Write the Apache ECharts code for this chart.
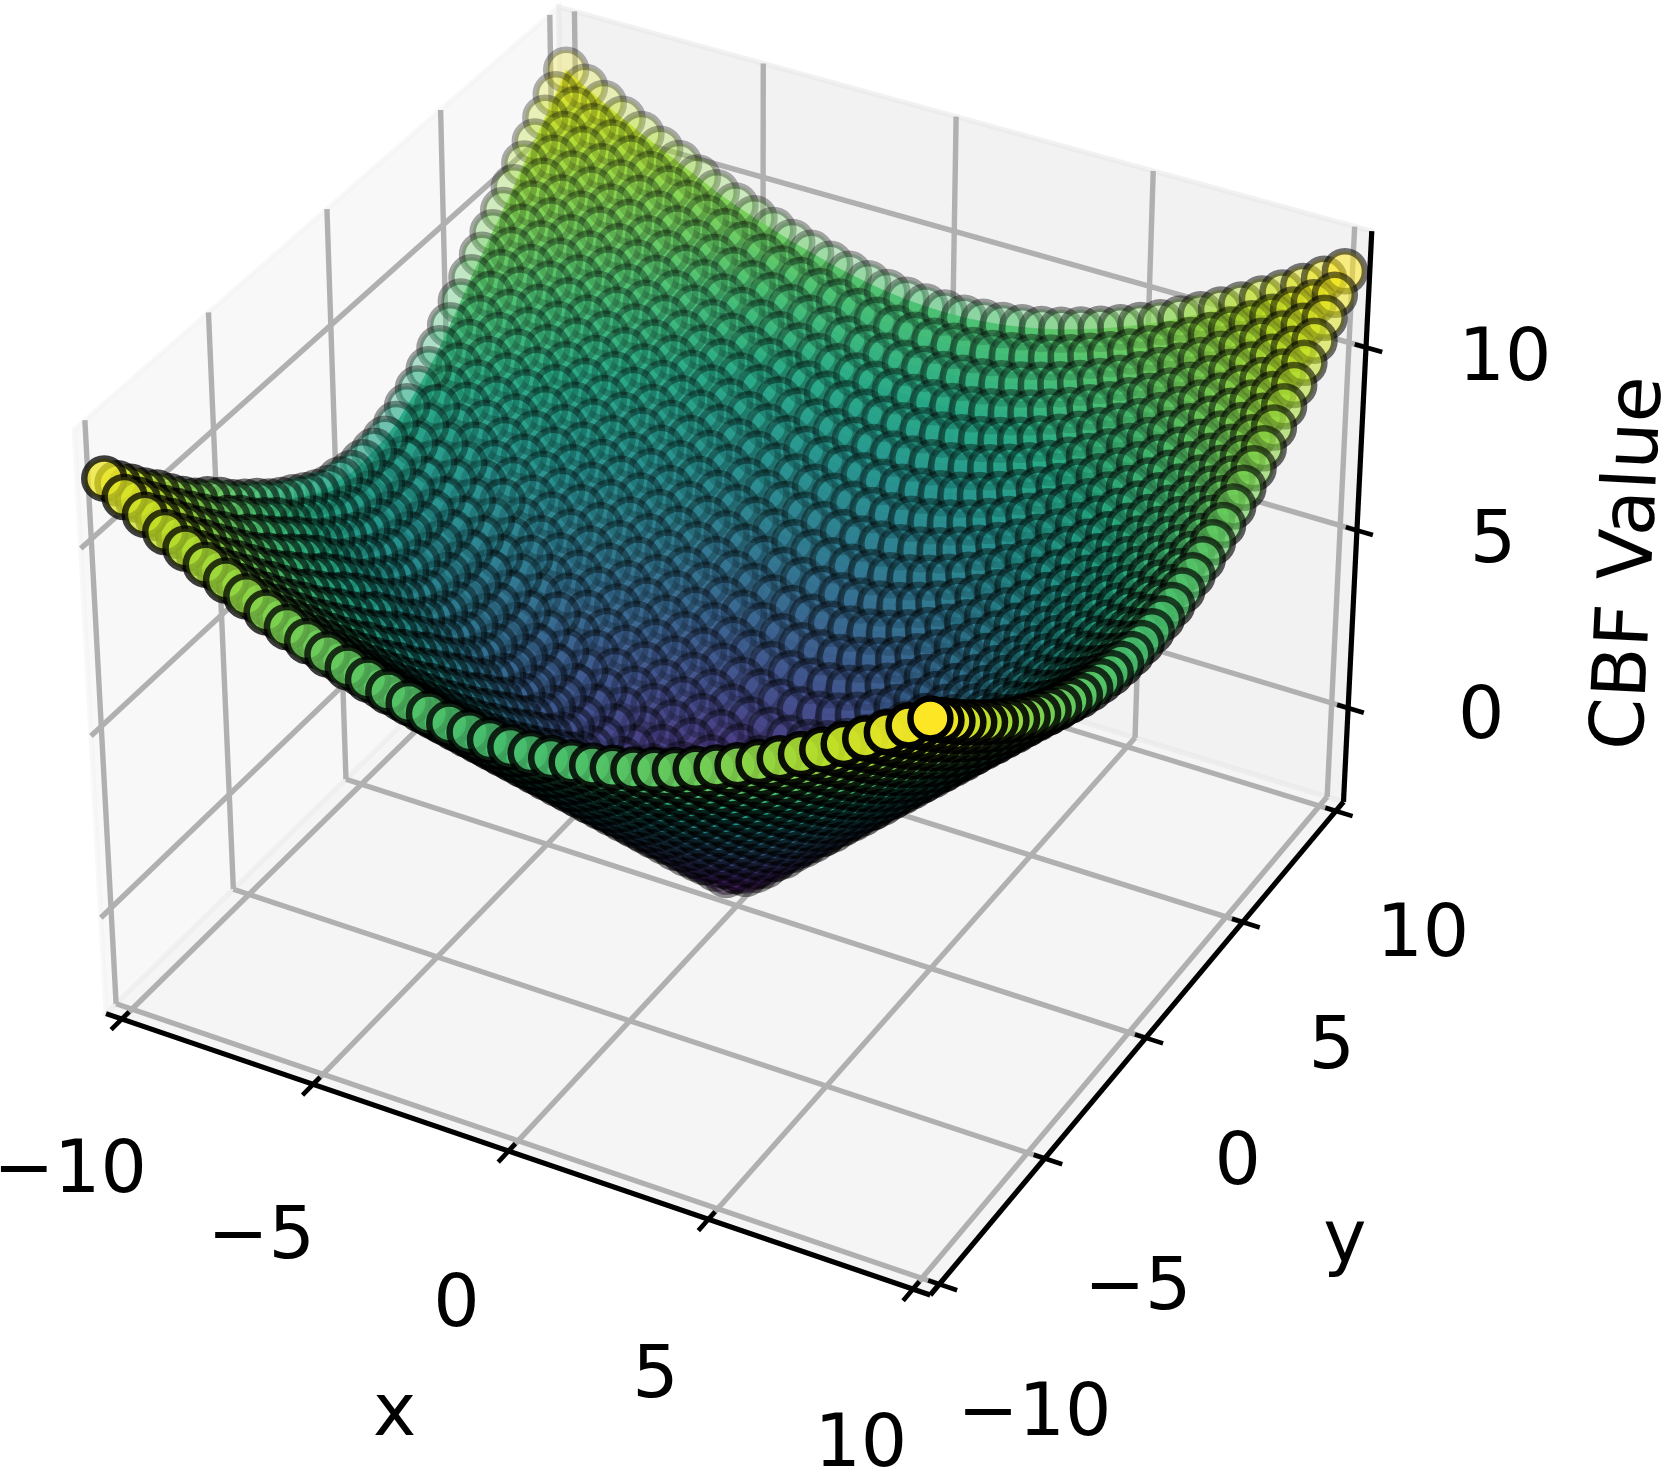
<!DOCTYPE html>
<html><head><meta charset="utf-8"><style>html,body{margin:0;padding:0;background:#fff}#chart{width:1661px;height:1470px}</style>
<script src="https://cdn.jsdelivr.net/npm/echarts@6/dist/echarts.min.js"></script></head><body><div id="chart"></div>
<script>
const xTicks=[-10,-5,0,5,10];
const yTicks=[-10,-5,0,5,10];
const zTicks=[0,5,10];
const xTickLabels=['−10','−5','0','5','10'];
const yTickLabels=['−10','−5','0','5','10'];
const zTickLabels=['0','5','10'];
const gridXY=[-10,-9.5,-9,-8.5,-8,-7.5,-7,-6.5,-6,-5.5,-5,-4.5,-4,-3.5,-3,-2.5,-2,-1.5,-1,-0.5,0,0.5,1,1.5,2,2.5,3,3.5,4,4.5,5,5.5,6,6.5,7,7.5,8,8.5,9,9.5,10];
const r0=[6.1,5.7,5.29,4.89,4.48,4.08,3.67,3.27,2.86,2.46,2.05,1.65,1.24,0.84,0.43,0.03,-0.38,-0.79,-1.19,-1.6,-1.72,-1.5,-1,-0.5,0,0.5,1,1.5,2,2.5,3,3.5,4,4.5,5,5.5,6,6.5,7,7.5,8];
const r1=[6.11,5.7,5.3,4.89,4.5,4.09,3.69,3.28,2.88,2.47,2.07,1.67,1.26,0.87,0.46,0.08,-0.3,-0.67,-1,-1.31,-1.5,-1.29,-0.88,-0.42,0.06,0.55,1.04,1.54,2.03,2.53,3.02,3.52,4.02,4.52,5.02,5.52,6.02,6.51,7.01,7.51,8.01];
const r2=[6.14,5.74,5.34,4.93,4.53,4.13,3.73,3.33,2.92,2.53,2.16,1.78,1.4,1.03,0.66,0.32,0.01,-0.32,-0.63,-0.89,-1,-0.88,-0.59,-0.2,0.24,0.69,1.16,1.64,2.12,2.61,3.1,3.59,4.08,4.58,5.07,5.57,6.06,6.56,7.06,7.55,8.05];
const r3=[6.19,5.79,5.39,4.99,4.61,4.23,3.86,3.48,3.1,2.74,2.36,2,1.65,1.32,1,0.7,0.36,0.06,-0.23,-0.42,-0.5,-0.42,-0.2,0.12,0.5,0.92,1.35,1.81,2.27,2.74,3.22,3.7,4.18,4.67,5.16,5.65,6.14,6.63,7.12,7.62,8.11];
const r4=[6.31,5.93,5.56,5.18,4.81,4.43,4.06,3.7,3.33,2.97,2.65,2.31,2,1.7,1.37,1.05,0.75,0.46,0.22,0.06,0,0.06,0.24,0.5,0.83,1.2,1.61,2.03,2.47,2.92,3.39,3.85,4.32,4.8,5.28,5.76,6.25,6.73,7.22,7.71,8.2];
const r5=[6.52,6.14,5.77,5.4,5.03,4.67,4.3,3.96,3.64,3.32,3.01,2.7,2.38,2.04,1.73,1.43,1.13,0.88,0.68,0.55,0.5,0.55,0.69,0.92,1.2,1.54,1.91,2.3,2.72,3.15,3.59,4.04,4.5,4.96,5.43,5.91,6.38,6.86,7.34,7.82,8.31];
const r6=[6.73,6.37,6,5.64,5.29,4.97,4.64,4.33,4.01,3.7,3.38,3.05,2.73,2.41,2.11,1.82,1.56,1.33,1.16,1.04,1,1.04,1.16,1.35,1.61,1.91,2.24,2.61,3,3.41,3.83,4.26,4.71,5.16,5.62,6.08,6.54,7.01,7.49,7.96,8.44];
const r7=[6.98,6.61,6.3,5.96,5.64,5.33,5.02,4.7,4.4,4.06,3.72,3.42,3.09,2.8,2.5,2.23,1.99,1.79,1.64,1.54,1.5,1.54,1.64,1.81,2.03,2.3,2.61,2.95,3.31,3.7,4.1,4.52,4.95,5.38,5.83,6.28,6.73,7.19,7.66,8.12,8.6];
const r8=[7.28,6.96,6.64,6.33,6.01,5.7,5.4,5.07,4.73,4.41,4.09,3.78,3.49,3.18,2.91,2.66,2.44,2.26,2.12,2.03,2,2.03,2.12,2.27,2.47,2.72,3,3.31,3.66,4.02,4.4,4.8,5.21,5.63,6.06,6.5,6.94,7.39,7.85,8.31,8.77];
const r9=[7.64,7.33,7.01,6.71,6.4,6.08,5.74,5.41,5.09,4.78,4.47,4.17,3.86,3.59,3.33,3.1,2.9,2.74,2.61,2.53,2.5,2.53,2.61,2.74,2.92,3.15,3.41,3.7,4.02,4.36,4.73,5.11,5.5,5.91,6.32,6.75,7.18,7.62,8.06,8.51,8.97];
const r10=[8.02,7.71,7.4,7.09,6.74,6.41,6.08,5.77,5.46,5.15,4.86,4.55,4.27,4.01,3.76,3.55,3.37,3.22,3.1,3.02,3,3.02,3.1,3.22,3.39,3.59,3.83,4.1,4.4,4.73,5.07,5.43,5.81,6.2,6.6,7.01,7.43,7.86,8.3,8.74,9.18];
const r11=[8.41,8.1,7.76,7.41,7.09,6.77,6.46,6.14,5.83,5.55,5.23,4.95,4.68,4.44,4.2,4.01,3.84,3.7,3.59,3.52,3.5,3.52,3.59,3.7,3.85,4.04,4.26,4.52,4.8,5.11,5.43,5.78,6.14,6.51,6.9,7.3,7.71,8.12,8.55,8.98,9.41];
const r12=[8.76,8.43,8.1,7.77,7.45,7.14,6.82,6.52,6.24,5.92,5.63,5.37,5.11,4.87,4.66,4.48,4.32,4.18,4.08,4.02,4,4.02,4.08,4.18,4.32,4.5,4.71,4.95,5.21,5.5,5.81,6.14,6.49,6.85,7.22,7.6,8,8.4,8.82,9.24,9.66];
const r13=[9.11,8.77,8.45,8.14,7.83,7.5,7.21,6.91,6.61,6.31,6.04,5.79,5.54,5.31,5.12,4.94,4.8,4.67,4.58,4.52,4.5,4.52,4.58,4.67,4.8,4.96,5.16,5.38,5.63,5.91,6.2,6.51,6.85,7.19,7.55,7.92,8.31,8.7,9.1,9.51,9.93];
const r14=[9.45,9.14,8.83,8.5,8.19,7.89,7.6,7.29,7,6.72,6.46,6.21,5.98,5.78,5.59,5.42,5.28,5.16,5.07,5.02,5,5.02,5.07,5.16,5.28,5.43,5.62,5.83,6.06,6.32,6.6,6.9,7.22,7.55,7.9,8.26,8.63,9.01,9.4,9.8,10.21];
const r15=[9.81,9.51,9.19,8.88,8.58,8.29,7.97,7.67,7.4,7.14,6.88,6.65,6.42,6.24,6.06,5.91,5.76,5.65,5.57,5.52,5.5,5.52,5.57,5.65,5.76,5.91,6.08,6.28,6.5,6.75,7.01,7.3,7.6,7.92,8.26,8.61,8.97,9.34,9.72,10.1,10.5];
const r16=[10.2,9.87,9.56,9.26,8.97,8.66,8.36,8.08,7.82,7.56,7.31,7.09,6.88,6.7,6.52,6.38,6.25,6.14,6.06,6.02,6,6.02,6.06,6.14,6.25,6.38,6.54,6.73,6.94,7.18,7.43,7.71,8,8.31,8.63,8.97,9.31,9.67,10.04,10.42,10.81];
const r17=[10.54,10.24,9.95,9.66,9.34,9.06,8.76,8.5,8.24,7.99,7.75,7.53,7.34,7.16,7,6.86,6.73,6.63,6.56,6.51,6.5,6.51,6.56,6.63,6.73,6.86,7.01,7.19,7.39,7.62,7.86,8.12,8.4,8.7,9.01,9.34,9.67,10.02,10.38,10.75,11.12];
const r18=[10.93,10.63,10.35,10.03,9.73,9.45,9.17,8.91,8.67,8.42,8.2,7.99,7.81,7.64,7.49,7.34,7.22,7.12,7.06,7.01,7,7.01,7.06,7.12,7.22,7.34,7.49,7.66,7.85,8.06,8.3,8.55,8.82,9.1,9.4,9.72,10.04,10.38,10.73,11.09,11.45];
const r19=[11.31,11.04,10.72,10.42,10.13,9.85,9.59,9.34,9.09,8.86,8.65,8.46,8.28,8.11,7.96,7.82,7.71,7.62,7.55,7.51,7.5,7.51,7.55,7.62,7.71,7.82,7.96,8.12,8.31,8.51,8.74,8.98,9.24,9.51,9.8,10.1,10.42,10.75,11.09,11.44,11.79];
const r20=[11.72,11.4,11.1,10.81,10.54,10.28,10.03,9.78,9.52,9.3,9.1,8.92,8.74,8.59,8.44,8.31,8.2,8.11,8.05,8.01,8,8.01,8.05,8.11,8.2,8.31,8.44,8.6,8.77,8.97,9.18,9.41,9.66,9.93,10.21,10.5,10.81,11.12,11.45,11.79,12.14];
// rows on the negative-y side where the reference differs from the positive-y side
const n1=[6.21,5.79,5.38,4.96,4.56,4.14,3.73,3.31,2.9,2.48,2.07,1.67,1.26,0.87,0.46,0.08,-0.3,-0.67,-1,-1.31,-1.5,-1.29,-0.88,-0.42,0.06,0.55,1.04,1.54,2.03,2.53,3.02,3.52,4.02,4.52,5.02,5.52,6.02,6.51,7.01,7.51,8.01];
const n2=[6.27,5.86,5.44,5.02,4.61,4.2,3.78,3.37,2.95,2.54,2.16,1.78,1.4,1.03,0.66,0.32,0.01,-0.32,-0.63,-0.89,-1,-0.88,-0.59,-0.2,0.24,0.69,1.16,1.64,2.12,2.61,3.1,3.59,4.08,4.58,5.07,5.57,6.06,6.56,7.06,7.55,8.05];
const n3=[6.44,6.02,5.59,5.17,4.76,4.36,3.96,3.56,3.15,2.77,2.36,2,1.65,1.32,1,0.7,0.36,0.06,-0.23,-0.42,-0.5,-0.42,-0.2,0.12,0.5,0.92,1.35,1.81,2.27,2.74,3.22,3.7,4.18,4.67,5.16,5.65,6.14,6.63,7.12,7.62,8.11];
const n4=[6.65,6.24,5.83,5.42,5.01,4.6,4.2,3.8,3.4,3,2.65,2.31,2,1.7,1.37,1.05,0.75,0.46,0.22,0.06,0,0.06,0.24,0.5,0.83,1.2,1.61,2.03,2.47,2.92,3.39,3.85,4.32,4.8,5.28,5.76,6.25,6.73,7.22,7.71,8.2];
const n5=[6.88,6.46,6.06,5.65,5.25,4.85,4.44,4.07,3.71,3.36,3.01,2.7,2.38,2.04,1.73,1.43,1.13,0.88,0.68,0.55,0.5,0.55,0.69,0.92,1.2,1.54,1.91,2.3,2.72,3.15,3.59,4.04,4.5,4.96,5.43,5.91,6.38,6.86,7.34,7.82,8.31];
const n6=[7.1,6.7,6.3,5.9,5.51,5.16,4.79,4.44,4.08,3.74,3.38,3.05,2.73,2.41,2.11,1.82,1.56,1.33,1.16,1.04,1,1.04,1.16,1.35,1.61,1.91,2.24,2.61,3,3.41,3.83,4.26,4.71,5.16,5.62,6.08,6.54,7.01,7.49,7.96,8.44];
const n7=[7.35,6.94,6.6,6.22,5.86,5.52,5.17,4.81,4.47,4.1,3.72,3.42,3.09,2.8,2.5,2.23,1.99,1.79,1.64,1.54,1.5,1.54,1.64,1.81,2.03,2.3,2.61,2.95,3.31,3.7,4.1,4.52,4.95,5.38,5.83,6.28,6.73,7.19,7.66,8.12,8.6];
const n8=[7.65,7.29,6.94,6.59,6.23,5.89,5.55,5.18,4.8,4.45,4.09,3.78,3.49,3.18,2.91,2.66,2.44,2.26,2.12,2.03,2,2.03,2.12,2.27,2.47,2.72,3,3.31,3.66,4.02,4.4,4.8,5.21,5.63,6.06,6.5,6.94,7.39,7.85,8.31,8.77];
const n9=[7.92,7.58,7.23,6.91,6.57,6.22,5.85,5.49,5.15,4.81,4.47,4.17,3.86,3.59,3.33,3.1,2.9,2.74,2.61,2.53,2.5,2.53,2.61,2.74,2.92,3.15,3.41,3.7,4.02,4.36,4.73,5.11,5.5,5.91,6.32,6.75,7.18,7.62,8.06,8.51,8.97];
const n10=[8.2,7.87,7.54,7.22,6.85,6.5,6.15,5.82,5.5,5.17,4.86,4.55,4.27,4.01,3.76,3.55,3.37,3.22,3.1,3.02,3,3.02,3.1,3.22,3.39,3.59,3.83,4.1,4.4,4.73,5.07,5.43,5.81,6.2,6.6,7.01,7.43,7.86,8.3,8.74,9.18];
const n11=[8.55,8.23,7.87,7.51,7.17,6.84,6.52,6.18,5.86,5.56,5.23,4.95,4.68,4.44,4.2,4.01,3.84,3.7,3.59,3.52,3.5,3.52,3.59,3.7,3.85,4.04,4.26,4.52,4.8,5.11,5.43,5.78,6.14,6.51,6.9,7.3,7.71,8.12,8.55,8.98,9.41];
const n12=[8.86,8.52,8.18,7.84,7.51,7.19,6.86,6.55,6.26,5.93,5.63,5.37,5.11,4.87,4.66,4.48,4.32,4.18,4.08,4.02,4,4.02,4.08,4.18,4.32,4.5,4.71,4.95,5.21,5.5,5.81,6.14,6.49,6.85,7.22,7.6,8,8.4,8.82,9.24,9.66];
const cbfRows=[r20,r19,r18,r17,r16,r15,r14,r13,n12,n11,n10,n9,n8,n7,n6,n5,n4,n3,n2,n1,r0,r1,r2,r3,r4,r5,r6,r7,r8,r9,r10,r11,r12,r13,r14,r15,r16,r17,r18,r19,r20];
const colorRange=[-2,12.14];
const viridis=['#440154','#482475','#414487','#355f8d','#2a788e','#21918c','#22a884','#44bf70','#7ad151','#bddf26','#fde725'];

// 3D camera (projective map of the box, fitted to the reference)
const M=[0.370672,0.241615,-0.022078,0.736832,0.105407,-0.190580,-0.377996,0.810797,-0.021653,0.040662,-0.029514];
function depth(x,y,z){return M[8]*x/10+M[9]*y/10+M[10]*z/10+1;}
function project(x,y,z){const a=x/10,b=y/10,c=z/10,w=depth(x,y,z);return [1000*(M[0]*a+M[1]*b+M[2]*c+M[3])/w,1000*(M[4]*a+M[5]*b+M[6]*c+M[7])/w];}
const P=10.42,Zf=-2.7,Zt=13.1;
const cmap=z=>echarts.color.lerp((z-colorRange[0])/(colorRange[1]-colorRange[0]),viridis);

const pts=[];
cbfRows.forEach((row,j)=>row.forEach((z,i)=>pts.push({x:gridXY[i],y:gridXY[j],z,d:depth(gridXY[i],gridXY[j],z)})));
const dmin=Math.min(...pts.map(p=>p.d)),dmax=Math.max(...pts.map(p=>p.d));
pts.sort((a,b)=>b.d-a.d);
const scatterData=pts.map(p=>({value:[...project(p.x,p.y,p.z),p.z],itemStyle:{color:cmap(p.z),opacity:1-0.7*(p.d-dmin)/(dmax-dmin)}}));

// surface facets, far to near
const quads=[];
for(let j=0;j<gridXY.length-1;j++)for(let i=0;i<gridXY.length-1;i++){
 const c=[[i,j],[i+1,j],[i+1,j+1],[i,j+1]].map(([a,b])=>[gridXY[a],gridXY[b],cbfRows[b][a]]);
 const mz=c.reduce((s,v)=>s+v[2],0)/4;
 quads.push({c,color:cmap(mz),d:c.reduce((s,v)=>s+depth(...v),0)/4});
}
quads.sort((a,b)=>b.d-a.d);

const panes=[
 {c:'rgba(242,242,242,0.5)',q:[[-P,-P,Zf],[-P,P,Zf],[-P,P,Zt],[-P,-P,Zt]]},
 {c:'rgba(230,230,230,0.5)',q:[[-P,P,Zf],[P,P,Zf],[P,P,Zt],[-P,P,Zt]]},
 {c:'rgba(236,236,236,0.5)',q:[[-P,-P,Zf],[P,-P,Zf],[P,P,Zf],[-P,P,Zf]]}];
const gridSegs=[];
xTicks.forEach(t=>{gridSegs.push([t,-P,Zf,t,P,Zf]);gridSegs.push([t,P,Zf,t,P,Zt]);});
yTicks.forEach(t=>{gridSegs.push([-P,t,Zf,P,t,Zf]);gridSegs.push([-P,t,Zf,-P,t,Zt]);});
zTicks.forEach(t=>{gridSegs.push([-P,-P,t,-P,P,t]);gridSegs.push([-P,P,t,P,P,t]);});
const axisSegs=[[-P,-P,Zf,P,-P,Zf],[P,-P,Zf,P,P,Zf],[P,P,Zf,P,P,Zt]];
const tickSegs=[];
xTicks.forEach(t=>tickSegs.push([t,-P-0.45,Zf,t,-P+0.3,Zf]));
yTicks.forEach(t=>tickSegs.push([P+0.43,t,Zf,P-0.27,t,Zf]));
zTicks.forEach(t=>tickSegs.push([P+0.4,P,t,P-0.28,P,t]));

function segSeries(data,color,width,z){return {type:'custom',coordinateSystem:'cartesian2d',z,clip:false,silent:true,data,
 renderItem(p,api){const a=api.coord(project(api.value(0),api.value(1),api.value(2))),b=api.coord(project(api.value(3),api.value(4),api.value(5)));
  return {type:'line',shape:{x1:a[0],y1:a[1],x2:b[0],y2:b[1]},style:{stroke:color,lineWidth:width,lineCap:'butt',fill:null}};}};}
function labelSeries(items,z){return {type:'custom',coordinateSystem:'cartesian2d',z,clip:false,silent:true,data:items.map((_,i)=>[i]),
 renderItem(p,api){const it=items[api.value(0)];const a=api.coord(project(...it.at));
  return {type:'text',x:a[0]+it.off[0],y:a[1]+it.off[1],rotation:it.rot||0,style:{text:it.t,fontSize:it.fs||73,fontFamily:'DejaVu Sans',fill:'#000',textAlign:'center',textVerticalAlign:'middle'}};}};}
const xOff=[[-52,154],[-52,155],[-52,156],[-53,159],[-52,158]];
const yOff=[[95,132],[93,132],[92,127],[89,127],[87,126]];
const zOff=[[133,11],[136,13],[139,14]];
const labels=[];
xTicks.forEach((t,i)=>labels.push({t:xTickLabels[i],at:[t,-P,Zf],off:xOff[i]}));
yTicks.forEach((t,i)=>labels.push({t:yTickLabels[i],at:[P,t,Zf],off:yOff[i]}));
zTicks.forEach((t,i)=>labels.push({t:zTickLabels[i],at:[P,P,t],off:zOff[i]}));
labels.push({t:'x',at:[0,-P,Zf],off:[-114,265]});
labels.push({t:'y',at:[P,0,Zf],off:[199,205]});
labels.push({t:'CBF Value',at:[P,P,5],off:[275,33],rot:1.52,fs:74.5});

const chart=echarts.init(document.getElementById('chart'),null,{renderer:'canvas'});
chart.setOption({animation:false,backgroundColor:'#fff',
 grid:{left:0,right:0,top:0,bottom:0},
 xAxis:{type:'value',min:0,max:1661,show:false},
 yAxis:{type:'value',min:0,max:1470,inverse:true,show:false},
 series:[
  {type:'custom',coordinateSystem:'cartesian2d',z:1,clip:false,silent:true,data:panes.map((_,i)=>[i]),
   renderItem(p,api){const q=panes[api.value(0)];return {type:'polygon',shape:{points:q.q.map(v=>api.coord(project(...v)))},style:{fill:q.c,stroke:q.c,lineWidth:5}};}},
  segSeries(gridSegs,'#b0b0b0',5.4,2),
  segSeries(axisSegs,'#000',5.2,3),
  segSeries(tickSegs,'#000',4.6,3),
  {type:'custom',coordinateSystem:'cartesian2d',z:4,clip:false,silent:true,progressive:0,data:quads.map((_,i)=>[i]),
   renderItem(p,api){const q=quads[api.value(0)];return {type:'polygon',shape:{points:q.c.map(v=>api.coord(project(...v)))},style:{fill:q.color,stroke:q.color,lineWidth:0.6,opacity:0.9}};}},
  {type:'scatter',z:5,silent:true,progressive:0,large:false,symbol:'circle',symbolSize:40,data:scatterData,
   itemStyle:{borderColor:'#000',borderWidth:6.5}},
  labelSeries(labels,6)
 ]});
</script></body></html>
